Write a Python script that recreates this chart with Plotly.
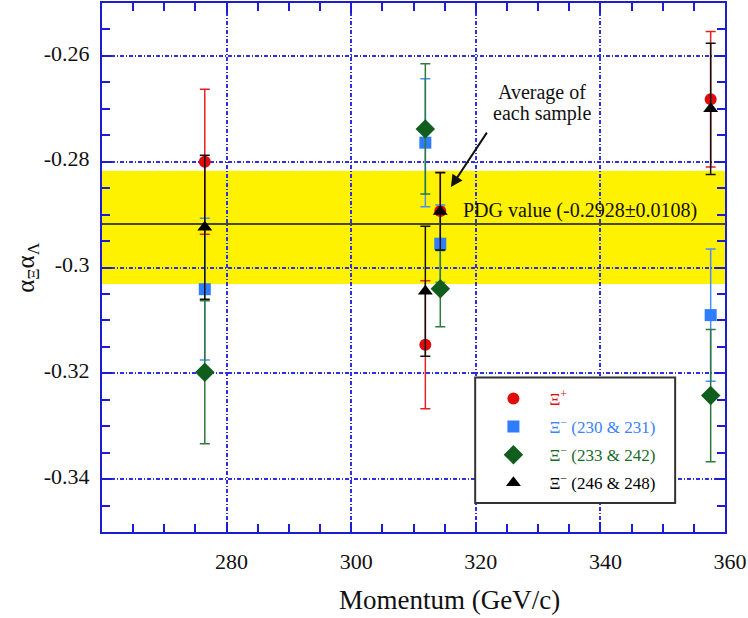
import plotly.graph_objects as go

# momentum points (GeV/c): single-sample results and the averages at ~314
momentum = [276.5, 311.9, 314.3, 357.7]

# alpha_Xi * alpha_Lambda for each sample
xi_plus = [-0.2800, -0.3146, -0.2893, -0.2682]
xi_plus_err = [0.0137, 0.0121, 0.0073, 0.0128]

xi_minus_230 = [-0.3041, -0.2764, -0.2955, -0.3090]
xi_minus_230_err = [0.0134, 0.0121, 0.0073, 0.0125]

xi_minus_233 = [-0.3198, -0.2738, -0.3040, -0.3242]
xi_minus_233_err = [0.0135, 0.0123, 0.0072, 0.0125]

xi_minus_246 = [-0.2924, -0.3045, -0.2894, -0.2700]
xi_minus_246_err = [0.0136, 0.0123, 0.0073, 0.0124]

# PDG band (as drawn) and the central line
pdg_band = [-0.3031, -0.2817]
pdg_line = -0.2918

x_ticks = [280, 300, 320, 340, 360]
y_ticks = [-0.34, -0.32, -0.3, -0.28, -0.26]
y_ticktext = ["-0.34", "-0.32", "-0.3", "-0.28", "-0.26"]

FONT = "Liberation Serif"
AXBLUE = "#1c1cd0"
GRIDBLUE = "#3030e0"

fig = go.Figure()

series = [
    ("Ξ<sup>+</sup>", xi_plus, xi_plus_err, "#e00b0b", "#e52222", "circle", 12, "#e01010"),
    ("Ξ<sup>−</sup> (230 &amp; 231)", xi_minus_230, xi_minus_230_err, "#2f7dfc", "#4b8dfa", "square", 12, "#3a82ff"),
    ("Ξ<sup>−</sup> (233 &amp; 242)", xi_minus_233, xi_minus_233_err, "#0f5e1e", "#2d7a3c", "diamond", 15, "#1a6a2a"),
    ("Ξ<sup>−</sup> (246 &amp; 248)", xi_minus_246, xi_minus_246_err, "#000000", "#111111", "triangle-up", 13, "#000000"),
]

for i, (name, y, err, mcol, ecol, sym, size, tcol) in enumerate(series):
    fig.add_trace(go.Scatter(
        x=momentum, y=y, mode="markers",
        name='<span style="color:%s">%s</span>' % (tcol, name),
        legendgroup="g%d" % i,
        marker=dict(color=mcol, symbol=sym, size=size, line=dict(width=0)),
        error_y=dict(type="data", array=err, color=ecol, thickness=1.5, width=5),
    ))

# PDG band and central line
fig.add_shape(type="rect", xref="paper", x0=0, x1=1, yref="y",
              y0=pdg_band[0], y1=pdg_band[1],
              fillcolor="#fff200", line=dict(width=0), layer="below")
fig.add_shape(type="line", xref="paper", x0=0, x1=1, yref="y",
              y0=pdg_line, y1=pdg_line,
              line=dict(color="#111111", width=1.5), layer="between")

# legend box
fig.add_shape(type="rect", xref="paper", yref="paper",
              x0=0.599, x1=0.920, y0=0.0546, y1=0.292,
              fillcolor="white", line=dict(color="#333333", width=2), layer="above")

fig.add_annotation(x=317.7, y=-0.2893, xref="x", yref="y",
                   text="PDG value (-0.2928±0.0108)", showarrow=False,
                   xanchor="left", yanchor="middle",
                   font=dict(family=FONT, size=20, color="#111111"))
fig.add_annotation(x=330.7, y=-0.2670, text="Average of", showarrow=False,
                   font=dict(family=FONT, size=20, color="#111111"))
fig.add_annotation(x=330.7, y=-0.2708, text="each sample", showarrow=False,
                   font=dict(family=FONT, size=20, color="#111111"))
fig.add_annotation(x=316.0, y=-0.2848, text="", showarrow=True,
                   ax=37, ay=-56, arrowhead=2, arrowsize=1.2, arrowwidth=2,
                   arrowcolor="#111111")

# axis titles
fig.add_annotation(x=0.558, y=-0.160, xref="paper", yref="paper",
                   text="Momentum (GeV/c)", showarrow=False,
                   font=dict(family=FONT, size=27, color="#111111"))
fig.add_annotation(x=-0.148, y=0.5, xref="paper", yref="paper",
                   text="α<sub>Ξ</sub>α<sub>Λ</sub>", showarrow=False, textangle=-90,
                   font=dict(family=FONT, size=25, color="#111111"))

fig.update_xaxes(
    range=[260, 360], tickvals=x_ticks, ticktext=[str(v) for v in x_ticks],
    showline=True, linecolor=AXBLUE, linewidth=2, mirror="allticks",
    ticks="inside", ticklen=10, tickwidth=1.5, tickcolor=AXBLUE,
    showgrid=True, gridcolor=GRIDBLUE, gridwidth=1.6, griddash="4px,2px,1px,2px",
    zeroline=False, ticklabelstandoff=9, ticklabelshift=5,
    tickfont=dict(family=FONT, size=22, color="#111111"),
    minor=dict(dtick=5, tick0=260, ticks="inside", ticklen=8, tickwidth=1.5,
               tickcolor=AXBLUE, showgrid=False),
)
fig.update_yaxes(
    range=[-0.35, -0.25], tickvals=y_ticks, ticktext=y_ticktext,
    showline=True, linecolor=AXBLUE, linewidth=2, mirror="allticks",
    ticks="inside", ticklen=10, tickwidth=1.5, tickcolor=AXBLUE,
    showgrid=True, gridcolor=GRIDBLUE, gridwidth=1.8, griddash="4px,2px,1px,2px",
    zeroline=False, ticklabelstandoff=6, ticklabelshift=-3,
    tickfont=dict(family=FONT, size=22, color="#111111"),
    minor=dict(dtick=0.005, tick0=-0.35, ticks="inside", ticklen=8, tickwidth=1.5,
               tickcolor=AXBLUE, showgrid=False),
)

fig.update_layout(
    width=748, height=618,
    margin=dict(l=102, r=22, t=1, b=86),
    paper_bgcolor="white", plot_bgcolor="white",
    font=dict(family=FONT, size=17, color="#111111"),
    showlegend=True,
    legend=dict(x=0.6026, y=0.2855, xanchor="left", yanchor="top",
                bgcolor="rgba(0,0,0,0)", borderwidth=0, itemwidth=62,
                traceorder="grouped", tracegroupgap=3,
                font=dict(family=FONT, size=17)),
)

# page has a default body margin; drop it so the figure sits at the corner
fig.write_html("out.html", config={"displayModeBar": False},
               post_script="document.body.style.margin='0';")
